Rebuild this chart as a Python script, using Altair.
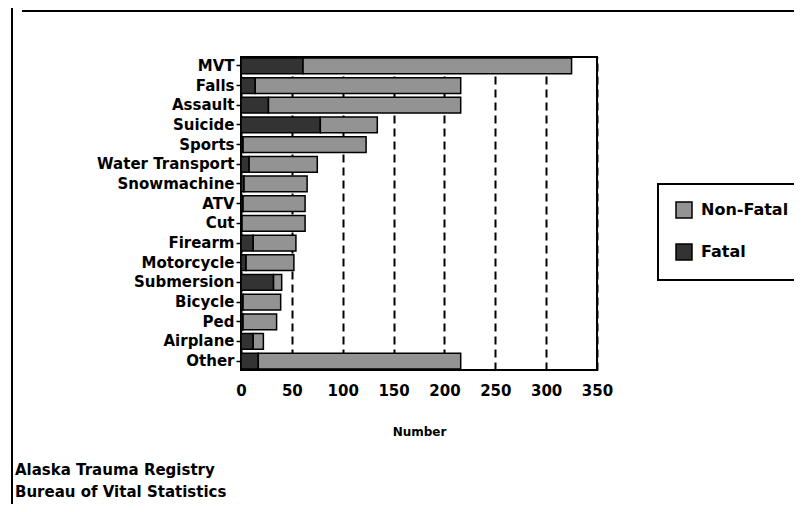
import altair as alt
import pandas as pd

categories = ["MVT", "Falls", "Assault", "Suicide", "Sports", "Water Transport",
              "Snowmachine", "ATV", "Cut", "Firearm", "Motorcycle", "Submersion",
              "Bicycle", "Ped", "Airplane", "Other"]
fatal = [61, 14, 27, 78, 2, 8, 3, 2, 1, 12, 5, 32, 2, 2, 12, 17]
non_fatal = [264, 202, 189, 56, 121, 67, 62, 61, 62, 42, 47, 8, 37, 33, 10, 199]
series = ["Non-Fatal", "Fatal"]
series_colors = ["#939393", "#333333"]
x_ticks = [0, 50, 100, 150, 200, 250, 300, 350]
footer_lines = ["Alaska Trauma Registry", "Bureau of Vital Statistics"]

rows = []
for c, f, n in zip(categories, fatal, non_fatal):
    rows.append({"Category": c, "Type": "Fatal", "Number": f, "ord": 0})
    rows.append({"Category": c, "Type": "Non-Fatal", "Number": n, "ord": 1})
df = pd.DataFrame(rows)

FONT = "DejaVu Sans"

bars = alt.Chart(df).mark_bar(stroke="black", strokeWidth=1.5).encode(
    y=alt.Y("Category:N", sort=categories,
            scale=alt.Scale(paddingInner=0.2, paddingOuter=0.05),
            axis=alt.Axis(title=None, labelFont=FONT, labelFontSize=15,
                          labelFontWeight="bold", labelColor="black",
                          labelPadding=2, tickSize=5, tickColor="black",
                          tickWidth=1.5, domain=False, grid=False)),
    x=alt.X("Number:Q", stack="zero",
            scale=alt.Scale(domain=[0, 350], nice=False),
            axis=alt.Axis(values=x_ticks, title="Number", titleFont=FONT,
                          titleFontSize=12, titleFontWeight="bold",
                          titleColor="black", titlePadding=28,
                          labelFont=FONT, labelFontSize=15,
                          labelFontWeight="bold", labelColor="black",
                          labelPadding=13, labelFlush=False, ticks=False,
                          domain=False, grid=True, gridColor="black",
                          gridWidth=2, gridDash=[8, 5])),
    color=alt.Color("Type:N",
                    scale=alt.Scale(domain=series, range=series_colors),
                    legend=alt.Legend(title=None, orient="none",
                                      legendX=417, legendY=127,
                                      padding=17, symbolType="square",
                                      symbolSize=256, symbolStrokeColor="black",
                                      symbolStrokeWidth=1.5, symbolOpacity=1,
                                      labelFont=FONT, labelFontSize=16,
                                      labelFontWeight="bold", labelColor="black",
                                      labelOffset=8, rowPadding=20)),
    order=alt.Order("ord:Q"),
)

one = pd.DataFrame({"k": [0]})
top_line = alt.Chart(one).mark_rule(color="black", strokeWidth=2).encode(
    x=alt.value(-219), x2=alt.value(560), y=alt.value(-46))
left_line = alt.Chart(one).mark_rule(color="black", strokeWidth=2).encode(
    x=alt.value(-229), y=alt.value(-60), y2=alt.value(460))

foot1 = alt.Chart(one).mark_text(align="left", baseline="alphabetic", font=FONT,
                                 fontSize=15, fontWeight="bold", color="black",
                                 text=footer_lines[0]).encode(
    x=alt.value(-226), y=alt.value(418))
foot2 = alt.Chart(one).mark_text(align="left", baseline="alphabetic", font=FONT,
                                 fontSize=15, fontWeight="bold", color="black",
                                 text=footer_lines[1]).encode(
    x=alt.value(-226), y=alt.value(440))

chart = alt.layer(bars, top_line, left_line, foot1, foot2).properties(
    width=356, height=313,
    autosize=alt.AutoSizeParams(type="none"),
    padding={"left": 233, "top": 49, "right": 197, "bottom": 134},
    background="white",
).configure_view(stroke="black", strokeWidth=2
).configure_legend(strokeColor="black", strokeWidth=2)

chart.save("out.html", embed_options={"renderer": "svg", "actions": False})
